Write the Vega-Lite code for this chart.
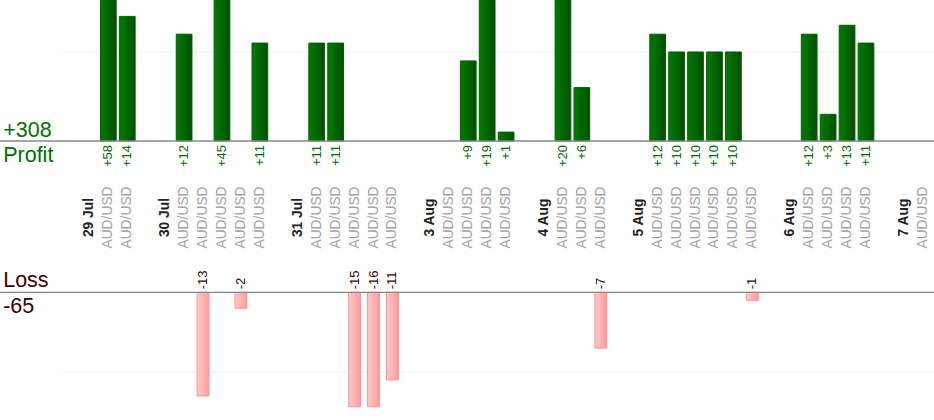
{
  "$schema": "https://vega.github.io/schema/vega-lite/v6.json",
  "description": "AUD/USD trades, profit and loss per trade by day",
  "width": 934,
  "height": 420,
  "padding": 0,
  "autosize": {"type": "none"},
  "config": {
    "view": {"stroke": null},
    "text": {"font": "Liberation Sans"}
  },
  "datasets": {
    "trades": [
      {"slot": "s04", "label": "29 Jul", "kind": "date", "pnl": null},
      {"slot": "s05", "label": "AUD/USD", "kind": "pair", "pnl": 58},
      {"slot": "s06", "label": "AUD/USD", "kind": "pair", "pnl": 14},
      {"slot": "s08", "label": "30 Jul", "kind": "date", "pnl": null},
      {"slot": "s09", "label": "AUD/USD", "kind": "pair", "pnl": 12},
      {"slot": "s10", "label": "AUD/USD", "kind": "pair", "pnl": -13},
      {"slot": "s11", "label": "AUD/USD", "kind": "pair", "pnl": 45},
      {"slot": "s12", "label": "AUD/USD", "kind": "pair", "pnl": -2},
      {"slot": "s13", "label": "AUD/USD", "kind": "pair", "pnl": 11},
      {"slot": "s15", "label": "31 Jul", "kind": "date", "pnl": null},
      {"slot": "s16", "label": "AUD/USD", "kind": "pair", "pnl": 11},
      {"slot": "s17", "label": "AUD/USD", "kind": "pair", "pnl": 11},
      {"slot": "s18", "label": "AUD/USD", "kind": "pair", "pnl": -15},
      {"slot": "s19", "label": "AUD/USD", "kind": "pair", "pnl": -16},
      {"slot": "s20", "label": "AUD/USD", "kind": "pair", "pnl": -11},
      {"slot": "s22", "label": "3 Aug", "kind": "date", "pnl": null},
      {"slot": "s23", "label": "AUD/USD", "kind": "pair", "pnl": null},
      {"slot": "s24", "label": "AUD/USD", "kind": "pair", "pnl": 9},
      {"slot": "s25", "label": "AUD/USD", "kind": "pair", "pnl": 19},
      {"slot": "s26", "label": "AUD/USD", "kind": "pair", "pnl": 1},
      {"slot": "s28", "label": "4 Aug", "kind": "date", "pnl": null},
      {"slot": "s29", "label": "AUD/USD", "kind": "pair", "pnl": 20},
      {"slot": "s30", "label": "AUD/USD", "kind": "pair", "pnl": 6},
      {"slot": "s31", "label": "AUD/USD", "kind": "pair", "pnl": -7},
      {"slot": "s33", "label": "5 Aug", "kind": "date", "pnl": null},
      {"slot": "s34", "label": "AUD/USD", "kind": "pair", "pnl": 12},
      {"slot": "s35", "label": "AUD/USD", "kind": "pair", "pnl": 10},
      {"slot": "s36", "label": "AUD/USD", "kind": "pair", "pnl": 10},
      {"slot": "s37", "label": "AUD/USD", "kind": "pair", "pnl": 10},
      {"slot": "s38", "label": "AUD/USD", "kind": "pair", "pnl": 10},
      {"slot": "s39", "label": "AUD/USD", "kind": "pair", "pnl": -1},
      {"slot": "s41", "label": "6 Aug", "kind": "date", "pnl": null},
      {"slot": "s42", "label": "AUD/USD", "kind": "pair", "pnl": 12},
      {"slot": "s43", "label": "AUD/USD", "kind": "pair", "pnl": 3},
      {"slot": "s44", "label": "AUD/USD", "kind": "pair", "pnl": 13},
      {"slot": "s45", "label": "AUD/USD", "kind": "pair", "pnl": 11},
      {"slot": "s47", "label": "7 Aug", "kind": "date", "pnl": null},
      {"slot": "s48", "label": "AUD/USD", "kind": "pair", "pnl": null}
    ]
  },
  "data": {"name": "trades"},
  "resolve": {"scale": {"y": "independent"}},
  "layer": [
    {
      "layer": [
        {
          "data": {"values": [{}]},
          "mark": {"type": "rule", "color": "#ececec", "strokeWidth": 1},
          "encoding": {
            "x": {"datum": "s03", "type": "nominal", "bandPosition": 0.1, "axis": null},
            "x2": {"datum": "s48", "bandPosition": 1},
            "y": {"datum": 10, "type": "quantitative", "axis": null}
          }
        },
        {
          "transform": [{"filter": "datum.pnl > 0"}],
          "mark": {
            "type": "bar",
            "width": {"band": 0.83},
            "color": {
              "gradient": "linear", "x1": 0, "y1": 0, "x2": 1, "y2": 0,
              "stops": [
                {"offset": 0, "color": "#007c00"},
                {"offset": 1, "color": "#004e00"}
              ]
            },
            "stroke": "#006200",
            "strokeWidth": 1
          },
          "encoding": {
            "x": {
              "field": "slot",
              "type": "nominal",
              "axis": null,
              "scale": {
                "type": "band",
                "domain": ["s00","s01","s02","s03","s04","s05","s06","s07","s08","s09",
                           "s10","s11","s12","s13","s14","s15","s16","s17","s18","s19",
                           "s20","s21","s22","s23","s24","s25","s26","s27","s28","s29",
                           "s30","s31","s32","s33","s34","s35","s36","s37","s38","s39",
                           "s40","s41","s42","s43","s44","s45","s46","s47","s48"],
                "paddingInner": 0,
                "paddingOuter": 0.155,
                "align": 0.71
              }
            },
            "y": {
              "field": "pnl",
              "type": "quantitative",
              "axis": null,
              "scale": {"domain": [0, 15.84], "range": [141, 0], "clamp": true, "nice": false, "zero": true}
            }
          }
        },
        {
          "data": {"values": [{}]},
          "mark": {"type": "rule", "color": "#888888", "strokeWidth": 1.3},
          "encoding": {"y": {"datum": 0, "type": "quantitative", "axis": null}}
        },
        {
          "transform": [{"filter": "datum.pnl > 0"}],
          "mark": {"type": "text", "angle": -90, "align": "right", "baseline": "middle", "yOffset": 4, "fontSize": 13, "color": "#007000"},
          "encoding": {
            "x": {"field": "slot", "type": "nominal", "axis": null},
            "y": {"datum": 0, "type": "quantitative", "axis": null},
            "text": {"field": "pnl", "type": "quantitative", "format": "+d"}
          }
        },
        {
          "transform": [{"filter": "datum.kind === 'date'"}],
          "mark": {"type": "text", "angle": -90, "align": "center", "baseline": "middle", "yOffset": 76.5, "fontSize": 13.8, "fontWeight": "bold", "color": "#222222"},
          "encoding": {
            "x": {"field": "slot", "type": "nominal", "axis": null},
            "y": {"datum": 0, "type": "quantitative", "axis": null},
            "text": {"field": "label"}
          }
        },
        {
          "transform": [{"filter": "datum.kind === 'pair'"}],
          "mark": {"type": "text", "angle": -90, "align": "center", "baseline": "middle", "yOffset": 76.5, "fontSize": 13.8, "color": "#a3a3a3"},
          "encoding": {
            "x": {"field": "slot", "type": "nominal", "axis": null},
            "y": {"datum": 0, "type": "quantitative", "axis": null},
            "text": {"field": "label"}
          }
        },
        {
          "transform": [
            {"filter": "datum.pnl > 0"},
            {"aggregate": [{"op": "sum", "field": "pnl", "as": "total"}]}
          ],
          "mark": {"type": "text", "align": "left", "baseline": "alphabetic", "yOffset": -4, "xOffset": -1, "fontSize": 21.5, "color": "#007000"},
          "encoding": {
            "x": {"datum": "s00", "type": "nominal", "bandPosition": 0, "axis": null},
            "y": {"datum": 0, "type": "quantitative", "axis": null},
            "text": {"field": "total", "type": "quantitative", "format": "+d"}
          }
        },
        {
          "data": {"values": [{}]},
          "mark": {"type": "text", "text": "Profit", "align": "left", "baseline": "alphabetic", "yOffset": 21, "xOffset": -1, "fontSize": 21.5, "color": "#007000"},
          "encoding": {
            "x": {"datum": "s00", "type": "nominal", "bandPosition": 0, "axis": null},
            "y": {"datum": 0, "type": "quantitative", "axis": null}
          }
        }
      ]
    },
    {
      "layer": [
        {
          "data": {"values": [{}]},
          "mark": {"type": "rule", "color": "#ececec", "strokeWidth": 1},
          "encoding": {
            "x": {"datum": "s03", "type": "nominal", "bandPosition": 0.1, "axis": null},
            "x2": {"datum": "s48", "bandPosition": 1},
            "y": {"datum": -10, "type": "quantitative", "axis": null}
          }
        },
        {
          "transform": [{"filter": "datum.pnl < 0"}],
          "mark": {
            "type": "bar",
            "width": {"band": 0.63},
            "color": {
              "gradient": "linear", "x1": 0, "y1": 0, "x2": 1, "y2": 0,
              "stops": [
                {"offset": 0, "color": "#ffc9c9"},
                {"offset": 1, "color": "#ff9c9c"}
              ]
            },
            "stroke": "#ff9494",
            "strokeWidth": 1
          },
          "encoding": {
            "x": {"field": "slot", "type": "nominal", "axis": null},
            "y": {
              "field": "pnl",
              "type": "quantitative",
              "axis": null,
              "scale": {"domain": [-14.35, 0], "range": [406.7, 292.3], "clamp": true, "nice": false, "zero": true}
            }
          }
        },
        {
          "data": {"values": [{}]},
          "mark": {"type": "rule", "color": "#888888", "strokeWidth": 1.3},
          "encoding": {"y": {"datum": 0, "type": "quantitative", "axis": null}}
        },
        {
          "transform": [{"filter": "datum.pnl < 0"}],
          "mark": {"type": "text", "angle": -90, "align": "left", "baseline": "middle", "yOffset": -3, "fontSize": 13, "color": "#330000"},
          "encoding": {
            "x": {"field": "slot", "type": "nominal", "axis": null},
            "y": {"datum": 0, "type": "quantitative", "axis": null},
            "text": {"field": "pnl", "type": "nominal"}
          }
        },
        {
          "data": {"values": [{}]},
          "mark": {"type": "text", "text": "Loss", "align": "left", "baseline": "alphabetic", "yOffset": -5, "xOffset": -1, "fontSize": 21.5, "color": "#3c0000"},
          "encoding": {
            "x": {"datum": "s00", "type": "nominal", "bandPosition": 0, "axis": null},
            "y": {"datum": 0, "type": "quantitative", "axis": null}
          }
        },
        {
          "transform": [
            {"filter": "datum.pnl < 0"},
            {"aggregate": [{"op": "sum", "field": "pnl", "as": "total"}]}
          ],
          "mark": {"type": "text", "align": "left", "baseline": "alphabetic", "yOffset": 21, "xOffset": -1, "fontSize": 21.5, "color": "#3c0000"},
          "encoding": {
            "x": {"datum": "s00", "type": "nominal", "bandPosition": 0, "axis": null},
            "y": {"datum": 0, "type": "quantitative", "axis": null},
            "text": {"field": "total", "type": "nominal"}
          }
        }
      ]
    }
  ]
}
